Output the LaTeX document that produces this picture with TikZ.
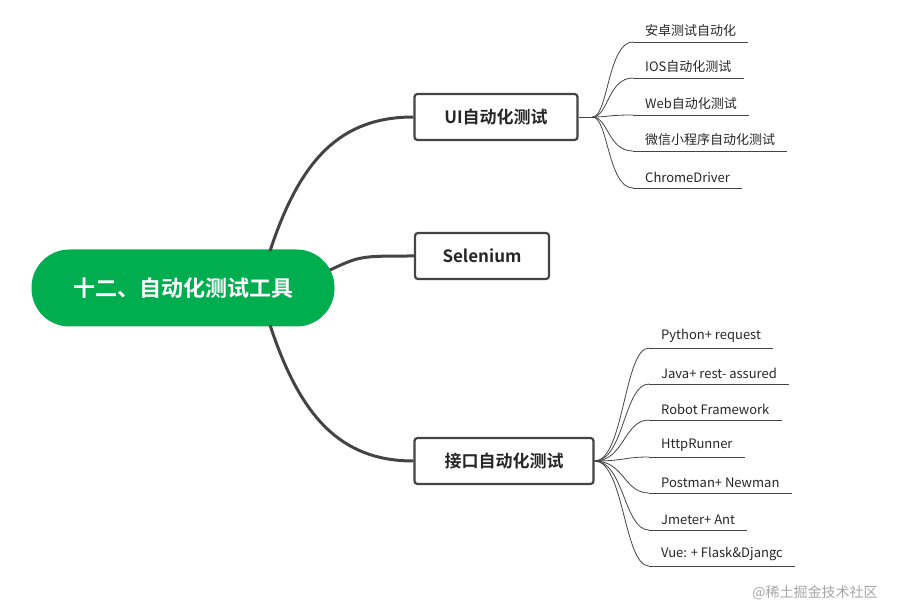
\documentclass[tikz,border=0pt]{standalone}
\usepackage{fontspec}
\setmainfont{Noto Sans CJK SC}[BoldFont={Noto Sans CJK SC Bold}]
\usetikzlibrary{positioning}
\definecolor{rootgreen}{HTML}{00AD4F}
\definecolor{edgegray}{HTML}{444444}
\tikzset{
  root/.style={fill=rootgreen, rounded corners=38pt, minimum width=303pt, minimum height=77pt,
               text=white, font=\fontsize{22}{24}\selectfont\bfseries},
  topic/.style={draw=edgegray, line width=2.2pt, rounded corners=3pt, minimum height=46pt,
                font=\fontsize{17}{20}\selectfont\bfseries, text=black!85},
  leaf/.style={anchor=south west, inner xsep=12pt, inner ysep=5pt,
               font=\fontsize{13}{15}\selectfont, text=black!85},
  branch/.style={edgegray, line width=3pt},
  twig/.style={edgegray, line width=0.8pt}
}
\begin{document}
\begin{tikzpicture}[x=1pt,y=-1pt]
\useasboundingbox (0,0) rectangle (902,609);

\node[root] (root) at (183,288) {十二、自动化测试工具};
\node[topic, minimum width=163pt] (ui) at (496,117) {UI自动化测试};
\node[topic, minimum width=134pt] (sel) at (482,256) {Selenium};
\node[topic, minimum width=179pt] (api) at (504,461) {接口自动化测试};

\coordinate (rtop) at (270,251);
\coordinate (rmid) at (330,270);
\coordinate (rbot) at (270,325);
\draw[branch] (rtop) .. controls (300,160) and (340,117) .. (ui.west);
\draw[branch] (rmid) .. controls (360,256) .. (sel.west);
\draw[branch] (rbot) .. controls (300,416) and (340,461) .. (api.west);

% UI leaves
\draw[twig] (ui.east) -- ++(14,0) coordinate (uihub);
\foreach \t/\y [count=\i] in {安卓测试自动化/42, IOS自动化测试/78, Web自动化测试/115,
                               微信小程序自动化测试/151, ChromeDriver/188}{
  \node[leaf] (u\i) at (633,\y) {\t};
  \draw[twig] (u\i.south west) -- (u\i.south east);
  \draw[twig] (uihub) .. controls (608,117) and (608,\y) .. (u\i.south west);
}

% interface leaves
\draw[twig] (api.east) -- ++(0,0) coordinate (apihub);
\foreach \t/\y [count=\i] in {Python+ request/348, Java+ rest- assured/384, Robot Framework/420,
                               HttpRunner/457, Postman+ Newman/493, Jmeter+ Ant/530,
                               Vue: + Flask\&Djangc/566}{
  \node[leaf] (a\i) at (649,\y) {\t};
  \draw[twig] (a\i.south west) -- (a\i.south east);
  \draw[twig] (apihub) .. controls (624,461) and (624,\y) .. (a\i.south west);
}

\node[text=black!35, font=\fontsize{14}{16}\selectfont] (mark) at (815,593) {@稀土掘金技术社区};
\end{tikzpicture}
\end{document}
